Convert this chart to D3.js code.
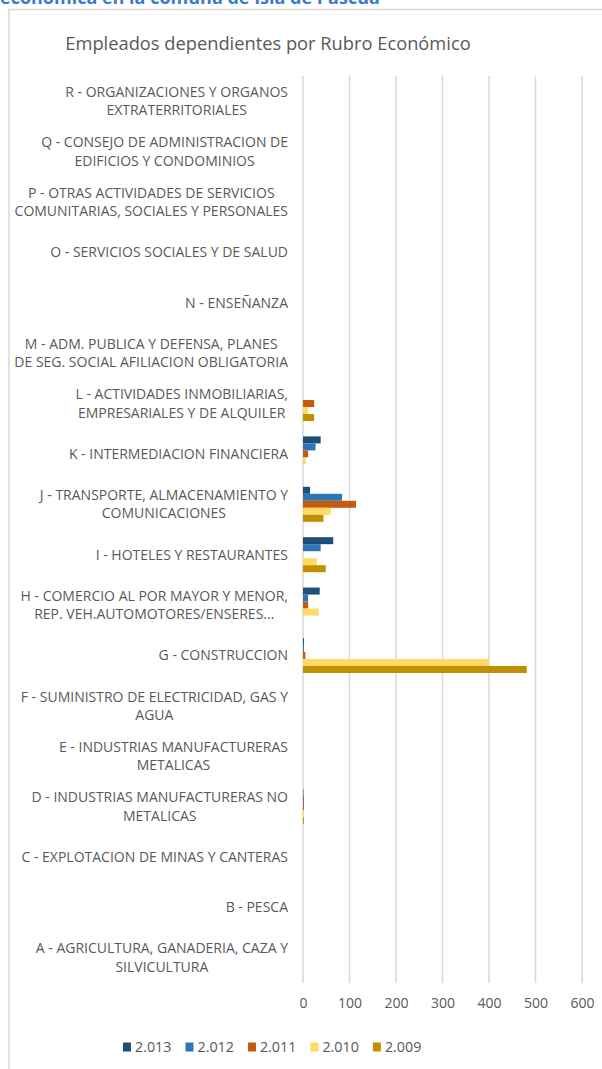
<!DOCTYPE html>
<html>
<head>
<meta charset="utf-8">
<script src="https://cdn.jsdelivr.net/npm/d3@7"></script>
<style>
  html, body { margin: 0; padding: 0; background: #fff; }
  svg { display: block; }
  text { font-family: "Open Sans", Lato, sans-serif; }
</style>
</head>
<body>
<svg id="chart" width="602" height="1069"></svg>
<script>
// Economic sectors, A (bottom) to R (top); "\n" marks the wrapped line
const categories = [
  "A - AGRICULTURA, GANADERIA, CAZA Y\nSILVICULTURA",
  "B - PESCA",
  "C - EXPLOTACION DE MINAS Y CANTERAS",
  "D - INDUSTRIAS MANUFACTURERAS NO\nMETALICAS",
  "E - INDUSTRIAS MANUFACTURERAS\nMETALICAS",
  "F - SUMINISTRO DE ELECTRICIDAD, GAS Y\nAGUA",
  "G - CONSTRUCCION",
  "H - COMERCIO AL POR MAYOR Y MENOR,\nREP. VEH.AUTOMOTORES/ENSERES...",
  "I - HOTELES Y RESTAURANTES",
  "J - TRANSPORTE, ALMACENAMIENTO Y\nCOMUNICACIONES",
  "K - INTERMEDIACION FINANCIERA",
  "L - ACTIVIDADES INMOBILIARIAS,\nEMPRESARIALES Y DE ALQUILER",
  "M - ADM. PUBLICA Y DEFENSA, PLANES\nDE SEG. SOCIAL AFILIACION OBLIGATORIA",
  "N - ENSEÑANZA",
  "O - SERVICIOS SOCIALES Y DE SALUD",
  "P - OTRAS ACTIVIDADES DE SERVICIOS\nCOMUNITARIAS, SOCIALES Y PERSONALES",
  "Q - CONSEJO DE ADMINISTRACION DE\nEDIFICIOS Y CONDOMINIOS",
  "R - ORGANIZACIONES Y ORGANOS\nEXTRATERRITORIALES"
];

// Employees per sector, one array per year (same order as categories)
const y2013 = [0, 0, 0, 1, 0, 0, 2, 36, 65, 15, 38, 0, 0, 0, 0, 0, 0, 0];
const y2012 = [0, 0, 0, 2, 0, 0, 2, 11, 38, 84, 27, 0, 0, 0, 0, 0, 0, 0];
const y2011 = [0, 0, 0, 2, 0, 0, 5, 11, 0, 114, 11, 24, 0, 0, 0, 0, 0, 0];
const y2010 = [0, 0, 0, 2, 0, 0, 400, 34, 30, 60, 6, 11, 0, 0, 0, 0, 0, 0];
const y2009 = [0, 0, 0, 2, 0, 0, 481, 0, 49, 44, 0, 24, 0, 0, 0, 0, 0, 0];

const seriesNames = ["2.013", "2.012", "2.011", "2.010", "2.009"];
const seriesValues = [y2013, y2012, y2011, y2010, y2009];
const seriesColors = ["#1f4e79", "#2e75b6", "#c55a11", "#ffd966", "#bf9000"];

const xTicks = [0, 100, 200, 300, 400, 500, 600];

const svg = d3.select("#chart");
const textColor = "#595959";
const gridColor = "#d9d9d9";

// Page heading above the chart box (runs off the top of the page)
svg.append("text")
  .attr("x", 0).attr("y", 4)
  .attr("fill", "#3a7ccc")
  .attr("font-size", 18).attr("font-weight", "bold")
  .text("económica en la comuna de Isla de Pascua");

// Chart box (its right edge lies past the page)
svg.append("rect")
  .attr("x", 9).attr("y", 9.5)
  .attr("width", 620).attr("height", 1100)
  .attr("fill", "#fff")
  .attr("stroke", gridColor).attr("stroke-width", 1.5);

// Chart title, centred on the chart box
svg.append("text")
  .attr("x", 268).attr("y", 50)
  .attr("text-anchor", "middle")
  .attr("fill", textColor)
  .attr("font-size", 18.3)
  .text("Empleados dependientes por Rubro Económico");

const plot = { left: 303, right: 582, top: 76, bottom: 983 };

const x = d3.scaleLinear().domain([0, 600]).range([plot.left, plot.right]);
const y = d3.scaleBand()
  .domain(categories.slice().reverse())
  .range([plot.top, plot.bottom])
  .paddingInner(0.3046).paddingOuter(0.1523);
const ySeries = d3.scaleBand()
  .domain(seriesNames)
  .range([0, y.bandwidth()]);

// Tick labels from the axis generator
const xAxis = d3.axisBottom(x).tickValues(xTicks).tickSize(0).tickPadding(15);
const gx = svg.append("g")
  .attr("transform", `translate(0,${plot.bottom})`)
  .call(xAxis);
gx.select(".domain").remove();
gx.selectAll("text")
  .attr("fill", textColor)
  .attr("font-size", 14)
  .attr("font-family", "'Open Sans', Lato, sans-serif");

// Vertical gridlines
svg.append("g").selectAll("line")
  .data(xTicks)
  .join("line")
  .attr("x1", d => x(d)).attr("x2", d => x(d))
  .attr("y1", plot.top).attr("y2", plot.bottom)
  .attr("stroke", gridColor).attr("stroke-width", 1.5);

// Bars
const groups = svg.append("g").selectAll("g")
  .data(categories)
  .join("g")
  .attr("transform", d => `translate(0,${y(d)})`);

groups.selectAll("rect")
  .data((d, i) => seriesNames.map((s, k) => ({ s, v: seriesValues[k][i], c: seriesColors[k] })))
  .join("rect")
  .attr("x", x(0))
  .attr("y", d => ySeries(d.s))
  .attr("width", d => x(d.v) - x(0))
  .attr("height", ySeries.bandwidth())
  .attr("fill", d => d.c);

// Category labels: lines centred within a block that is right-aligned
const labelRight = 288;
const lineGap = 18.5;
const labels = svg.append("g");
categories.forEach(cat => {
  const lines = cat.split("\n");
  const cy = y(cat) - y.step() * y.paddingInner() / 2 + y.step() / 2;
  const g = labels.append("g");
  const texts = lines.map((ln, i) => g.append("text")
    .attr("y", cy + (i - (lines.length - 1) / 2) * lineGap)
    .attr("dy", "0.35em")
    .attr("fill", textColor)
    .attr("font-size", 14)
    .attr("text-anchor", "middle")
    .text(ln));
  const w = d3.max(texts, t => t.node().getComputedTextLength());
  texts.forEach(t => t.attr("x", labelRight - w / 2));
});

// Legend
const legend = svg.append("g");
let lx = 123;
seriesNames.forEach((name, k) => {
  const item = legend.append("g").attr("transform", `translate(${lx},1047)`);
  item.append("rect").attr("x", 0).attr("y", -4.5).attr("width", 8).attr("height", 9).attr("fill", seriesColors[k]);
  const t = item.append("text").attr("x", 12).attr("dy", "0.35em")
    .attr("fill", textColor).attr("font-size", 14.3).text(name);
  lx += 12 + t.node().getComputedTextLength() + 14;
});
</script>
</body>
</html>
